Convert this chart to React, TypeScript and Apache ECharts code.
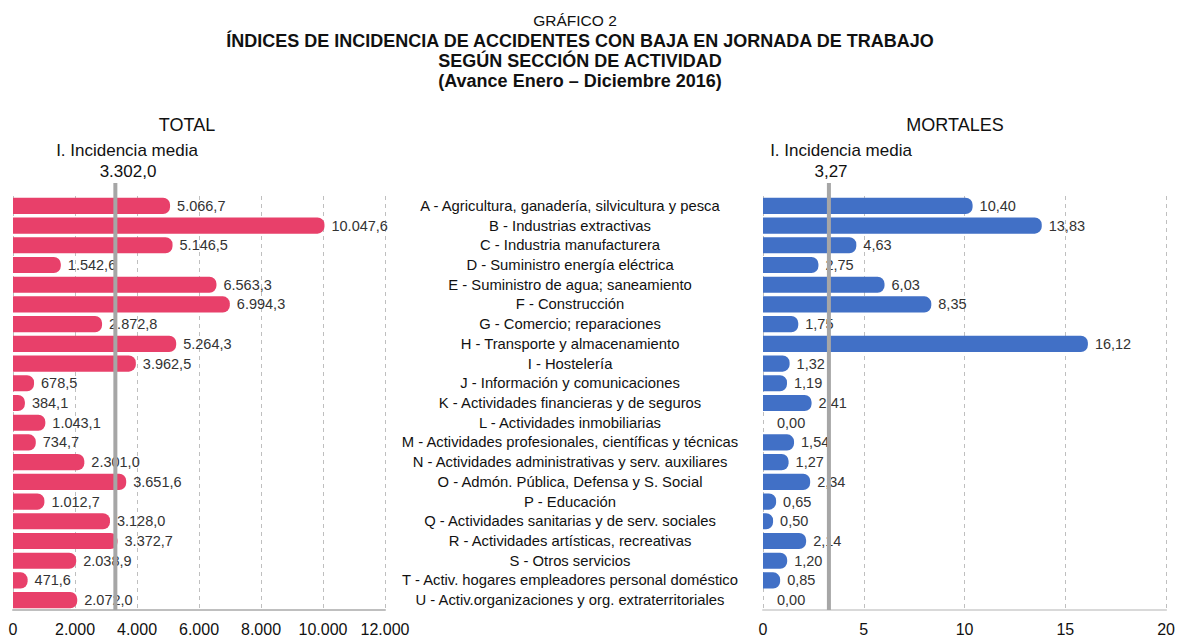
import React, { useEffect, useRef } from "react";
import * as echarts from "echarts";

const categories = [
  "A - Agricultura, ganadería, silvicultura y pesca",
  "B - Industrias extractivas",
  "C - Industria manufacturera",
  "D - Suministro energía eléctrica",
  "E - Suministro de agua; saneamiento",
  "F - Construcción",
  "G - Comercio; reparaciones",
  "H - Transporte y almacenamiento",
  "I - Hostelería",
  "J - Información y comunicaciones",
  "K - Actividades financieras y de seguros",
  "L - Actividades inmobiliarias",
  "M - Actividades profesionales, científicas y técnicas",
  "N - Actividades administrativas y serv. auxiliares",
  "O - Admón. Pública, Defensa y S. Social",
  "P - Educación",
  "Q - Actividades sanitarias y de serv. sociales",
  "R - Actividades artísticas, recreativas",
  "S - Otros servicios",
  "T - Activ. hogares empleadores personal doméstico",
  "U - Activ.organizaciones y org. extraterritoriales",
];

const totalValues = [
  5066.7, 10047.6, 5146.5, 1542.6, 6563.3, 6994.3, 2872.8, 5264.3, 3962.5, 678.5, 384.1,
  1043.1, 734.7, 2301.0, 3651.6, 1012.7, 3128.0, 3372.7, 2038.9, 471.6, 2072.0,
];

const mortalValues = [
  10.4, 13.83, 4.63, 2.75, 6.03, 8.35, 1.75, 16.12, 1.32, 1.19, 2.41, 0.0, 1.54, 1.27, 2.34,
  0.65, 0.5, 2.14, 1.2, 0.85, 0.0,
];

const totalAvg = 3302.0;
const mortalAvg = 3.27;

const titleLines = [
  "GRÁFICO 2",
  "ÍNDICES DE INCIDENCIA DE ACCIDENTES CON BAJA EN JORNADA DE TRABAJO",
  "SEGÚN SECCIÓN DE ACTIVIDAD",
  "(Avance Enero – Diciembre 2016)",
];

function fmtEs(v: number, d: number): string {
  const s = v.toFixed(d);
  const [intPart, dec] = s.split(".");
  const withDots = intPart.replace(/\B(?=(\d{3})+(?!\d))/g, ".");
  return dec !== undefined ? withDots + "," + dec : withDots;
}

const FONT = "'Liberation Sans', Arial, sans-serif";

function txt(text: string, left: number, top: number, size: number, bold = false) {
  return {
    text,
    left,
    top,
    textAlign: "center",
    textStyle: {
      fontSize: size,
      fontWeight: bold ? "bold" : "normal",
      color: "#111",
      fontFamily: FONT,
    },
  };
}

export default function App() {
  const ref = useRef<HTMLDivElement>(null);

  useEffect(() => {
    document.body.style.margin = "0";
    const chart = echarts.init(ref.current!, undefined, { renderer: "svg" });

    const gridTop = 196;
    const gridH = 414;

    const option: any = {
      animation: false,
      backgroundColor: "#ffffff",
      textStyle: { fontFamily: FONT },
      title: [
        txt(titleLines[0], 570, 7, 15.5),
        ...titleLines.slice(1).map((t, i) => txt(t, 575, 27 + i * 20, 18, true)),
        txt("TOTAL", 182, 111, 18),
        txt("MORTALES", 950, 111, 18),
        txt("I. Incidencia media", 122, 137, 17),
        txt(fmtEs(totalAvg, 1), 123, 158, 17),
        txt("I. Incidencia media", 836, 137, 17),
        txt(fmtEs(mortalAvg, 2), 826, 158, 17),
      ],
      grid: [
        { left: 13, top: gridTop, width: 372, height: gridH },
        { left: 763, top: gridTop, width: 404, height: gridH },
      ],
      xAxis: [
        {
          gridIndex: 0,
          type: "value",
          min: 0,
          max: 12000,
          interval: 2000,
          axisLine: { show: true, lineStyle: { color: "#BFBFBF", width: 2 } },
          axisTick: { show: false },
          splitLine: { show: true, lineStyle: { color: "#BFBFBF", type: [4, 4], width: 1 } },
          axisLabel: {
            fontSize: 16,
            color: "#111",
            margin: 11,
            fontFamily: FONT,
            formatter: (v: number) => fmtEs(v, 0),
          },
        },
        {
          gridIndex: 1,
          type: "value",
          min: 0,
          max: 20,
          interval: 5,
          axisLine: { show: true, lineStyle: { color: "#D9D9D9", width: 2 } },
          axisTick: { show: false },
          splitLine: { show: true, lineStyle: { color: "#BFBFBF", type: [4, 4], width: 1 } },
          axisLabel: { fontSize: 16, color: "#111", margin: 11, fontFamily: FONT },
        },
      ],
      yAxis: [
        {
          gridIndex: 0,
          type: "category",
          data: categories,
          inverse: true,
          axisLine: { show: false },
          axisTick: { show: false },
          axisLabel: { show: false },
        },
        {
          gridIndex: 1,
          type: "category",
          data: categories,
          inverse: true,
          axisLine: { show: false },
          axisTick: { show: false },
          axisLabel: {
            show: true,
            align: "center",
            margin: 193,
            fontSize: 14.8,
            color: "#111",
            fontFamily: FONT,
            interval: 0,
            padding: [10, 0, 0, 0],
          },
        },
      ],
      series: [
        {
          type: "bar",
          xAxisIndex: 0,
          yAxisIndex: 0,
          data: totalValues,
          barCategoryGap: "18%",
          itemStyle: { color: "#E8406A", borderRadius: [0, 7, 7, 0] },
          label: {
            show: true,
            position: "right",
            distance: 7,
            fontSize: 14.5,
            color: "#333",
            fontFamily: FONT,
            formatter: (p: any) => fmtEs(p.value, 1),
          },
        },
        {
          type: "bar",
          xAxisIndex: 1,
          yAxisIndex: 1,
          data: mortalValues.map((v) =>
            v === 0 ? { value: v, label: { distance: 14 } } : v
          ),
          barCategoryGap: "18%",
          itemStyle: { color: "#4170C6", borderRadius: [0, 7, 7, 0] },
          label: {
            show: true,
            position: "right",
            distance: 7,
            fontSize: 14.5,
            color: "#333",
            fontFamily: FONT,
            formatter: (p: any) => fmtEs(p.value, 2),
          },
        },
      ],
    };

    chart.setOption(option);

    const x1 = chart.convertToPixel({ xAxisIndex: 0 } as any, totalAvg) as number;
    const x2 = chart.convertToPixel({ xAxisIndex: 1 } as any, mortalAvg) as number;
    const yTop = 183;
    const yBot = gridTop + gridH;
    chart.setOption({
      graphic: [
        {
          type: "line",
          z: 100,
          shape: { x1: x1, y1: yTop, x2: x1, y2: yBot },
          style: { stroke: "#A6A6A6", lineWidth: 4 },
        },
        {
          type: "line",
          z: 100,
          shape: { x1: x2, y1: yTop, x2: x2, y2: yBot },
          style: { stroke: "#A6A6A6", lineWidth: 4 },
        },
      ],
    });

    return () => chart.dispose();
  }, []);

  return (
    <div
      ref={ref}
      style={{ position: "fixed", left: 0, top: 0, width: 1178, height: 639 }}
    />
  );
}
